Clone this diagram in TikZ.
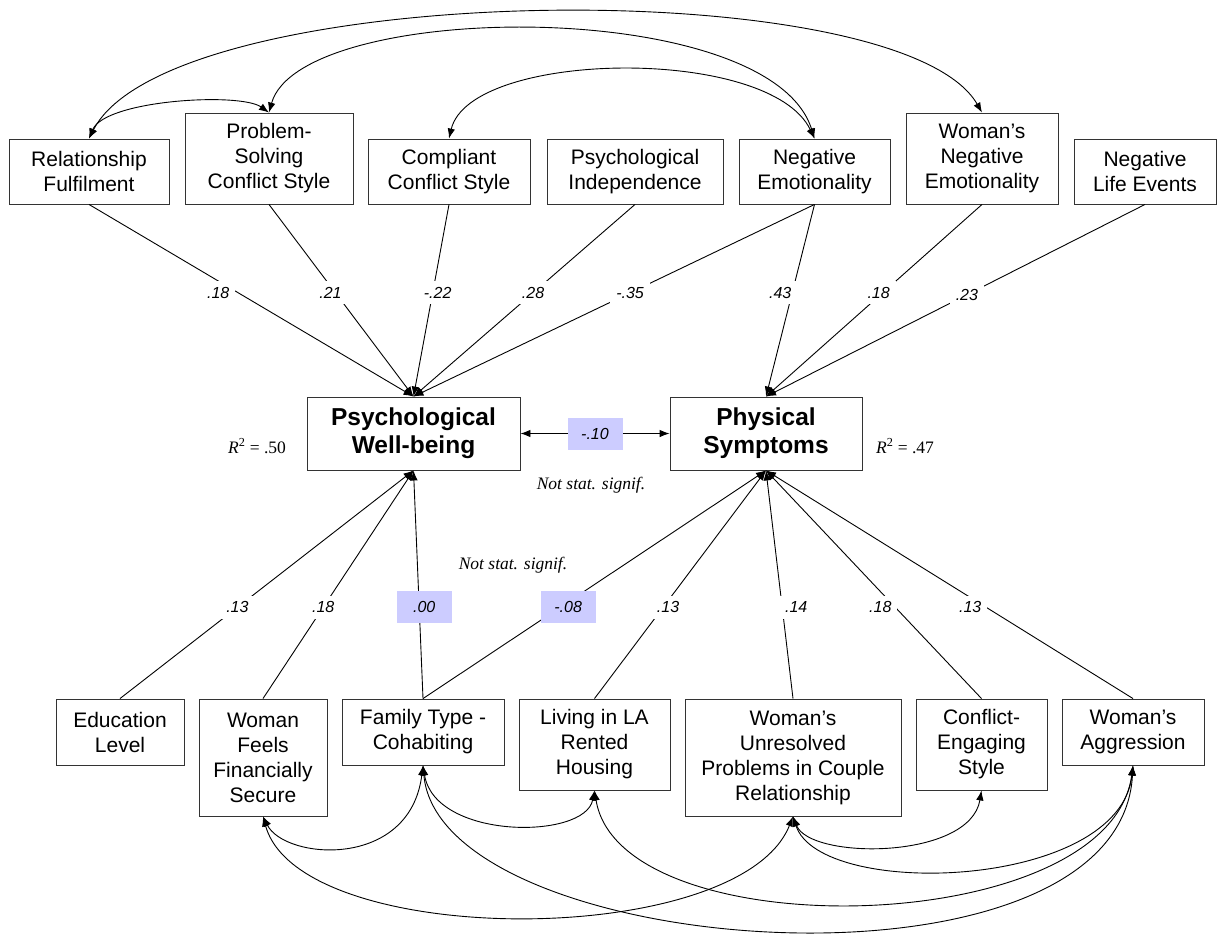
\documentclass[tikz,border=0pt]{standalone}
\usepackage{fontspec}
\setmainfont{Liberation Sans}
\newfontfamily\serifnote{Liberation Serif}
\usepackage{tikz}
\usetikzlibrary{arrows.meta}

\tikzset{
  var/.style={draw=black!80, line width=0.9pt, align=center, inner sep=0pt,
    font=\fontsize{21}{25}\selectfont},
  outcome/.style={var, font=\fontsize{24.5}{28}\selectfont\bfseries},
  coef/.style={fill=white, inner sep=6pt, font=\fontsize{16}{18}\selectfont\itshape},
  nscoef/.style={coef, inner sep=3pt, fill=blue!20, minimum width=55pt, minimum height=32pt},
  note/.style={font=\fontsize{17.5}{20}\selectfont\serifnote\itshape},
  path/.style={line width=0.9pt, -{Latex[length=10pt,width=7.5pt]}},
  cov/.style={line width=0.9pt, {Latex[length=10pt,width=7.5pt]}-{Latex[length=10pt,width=7.5pt]}}
}

\begin{document}
\begin{tikzpicture}[x=1pt, y=-1pt]
\useasboundingbox (0,0) rectangle (1218,937);

% predictors, top row
\node[var, minimum width=160, minimum height=65] (rel) at (89,171.5) {Relationship\\Fulfilment};
\node[var, minimum width=168, minimum height=91] (psc) at (269,158.5) {Problem-\\Solving\\Conflict Style};
\node[var, minimum width=162, minimum height=65] (ccs) at (449,171.5) {Compliant\\Conflict Style};
\node[var, minimum width=176, minimum height=65] (pin) at (635,171.5) {Psychological\\Independence};
\node[var, minimum width=151, minimum height=65] (nem) at (814.5,171.5) {Negative\\Emotionality};
\node[var, minimum width=152, minimum height=91] (wne) at (982,158.5) {Woman’s\\Negative\\Emotionality};
\node[var, minimum width=142, minimum height=65] (nle) at (1145,171.5) {Negative\\Life Events};

% outcomes
\node[outcome, minimum width=213, minimum height=73] (pwb) at (413.5,433.5) {Psychological\\Well-being};
\node[outcome, minimum width=192, minimum height=73] (phs) at (766,433.5) {Physical\\Symptoms};

% predictors, bottom row
\node[var, minimum width=128, minimum height=66] (edu) at (120,732) {Education\\Level};
\node[var, minimum width=128, minimum height=117] (wfs) at (263,757.5) {Woman\\Feels\\Financially\\Secure};
\node[var, minimum width=162, minimum height=66] (ftc) at (423,732) {Family Type -\\Cohabiting};
\node[var, minimum width=151, minimum height=91] (lrh) at (594.5,744.5) {Living in LA\\Rented\\Housing};
\node[var, minimum width=216, minimum height=117] (wup) at (793,757.5) {Woman’s\\Unresolved\\Problems in Couple\\Relationship};
\node[var, minimum width=131, minimum height=91] (ces) at (981.5,744.5) {Conflict-\\Engaging\\Style};
\node[var, minimum width=142, minimum height=66] (wag) at (1133,732) {Woman’s\\Aggression};

% R squared and notes
\node[note, font=\fontsize{17.5}{20}\selectfont\serifnote] (r2a) at (257,446) {\textit{R}\textsuperscript{2} = .50};
\node[note, font=\fontsize{17.5}{20}\selectfont\serifnote] (r2b) at (905,446) {\textit{R}\textsuperscript{2} = .47};
\node[note] (ns1) at (591,485) {Not stat. signif.};
\node[note] (ns2) at (513,565) {Not stat. signif.};

% paths from top row
\draw[path] (rel.south) -- node[coef, pos=.46, xshift=-20pt] {.18} (pwb.north);
\draw[path] (psc.south) -- node[coef, pos=.46, xshift=-5pt] {.21} (pwb.north);
\draw[path] (ccs.south) -- node[coef, pos=.46, xshift=5pt] {-.22} (pwb.north);
\draw[path] (pin.south) -- node[coef, pos=.46] {.28} (pwb.north);
\draw[path] (nem.south) -- node[coef, pos=.46] {-.35} (pwb.north);
\draw[path] (nem.south) -- node[coef, pos=.46, xshift=-12pt] {.43} (phs.north);
\draw[path] (wne.south) -- node[coef, pos=.46, xshift=-4pt] {.18} (phs.north);
\draw[path] (nle.south) -- node[coef, pos=.47] {.23} (phs.north);

% paths from bottom row
\draw[path] (edu.north) -- node[coef, pos=.4] {.13} (pwb.south);
\draw[path] (wfs.north) -- node[coef, pos=.4] {.18} (pwb.south);
\draw[path] (ftc.north) -- node[nscoef, pos=.4, xshift=5pt] {.00} (pwb.south);
\draw[path] (ftc.north) -- node[nscoef, pos=.4, xshift=8pt] {-.08} (phs.south);
\draw[path] (lrh.north) -- node[coef, pos=.4, xshift=5pt] {.13} (phs.south);
\draw[path] (wup.north) -- node[coef, pos=.4, xshift=14pt] {.14} (phs.south);
\draw[path] (ces.north) -- node[coef, pos=.4, xshift=-15pt] {.18} (phs.south);
\draw[path] (wag.north) -- node[coef, pos=.4, xshift=-16pt] {.13} (phs.south);

% residual covariance
\draw[cov] (pwb.east) -- node[nscoef] {-.10} (phs.west);

% correlations, top
\draw[cov] (rel.north) .. controls (105,100) and (240,92) .. (psc.north);
\draw[cov] (rel.north) .. controls (170,-20) and (900,-30) .. (wne.north);
\draw[cov] (psc.north) .. controls (300,0) and (770,-5) .. (nem.north);
\draw[cov] (ccs.north) .. controls (470,50) and (770,45) .. (nem.north);

% correlations, bottom
\draw[cov] (wfs.south) .. controls (285,860) and (410,870) .. (ftc.south);
\draw[cov] (wfs.south) .. controls (300,950) and (740,950) .. (wup.south);
\draw[cov] (ftc.south) .. controls (435,840) and (585,840) .. (lrh.south);
\draw[cov] (ftc.south) .. controls (440,960) and (1120,1010) .. (wag.south);
\draw[cov] (lrh.south) .. controls (620,950) and (1110,940) .. (wag.south);
\draw[cov] (wup.south) .. controls (810,860) and (970,860) .. (ces.south);
\draw[cov] (wup.south) .. controls (820,900) and (1120,890) .. (wag.south);
\end{tikzpicture}
\end{document}
